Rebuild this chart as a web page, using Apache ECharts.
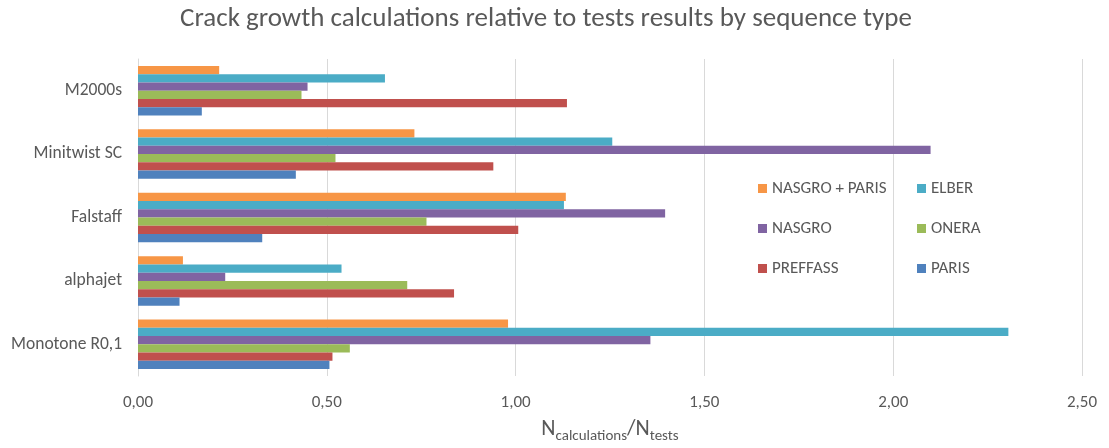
<!DOCTYPE html>
<html><head><meta charset="utf-8">
<script src="https://cdn.jsdelivr.net/npm/echarts@6/dist/echarts.min.js"></script>
<style>html,body{margin:0;padding:0;background:#fff}#c{width:1109px;height:448px}</style>
</head><body><div id="c"></div>
<script>
const categories = ['Monotone R0,1', 'alphajet', 'Falstaff', 'Minitwist SC', 'M2000s'];
const seriesNames = ['NASGRO + PARIS', 'ELBER', 'NASGRO', 'ONERA', 'PREFFASS', 'PARIS'];
const NASGRO_PARIS = [0.980, 0.119, 1.133, 0.732, 0.215];
const ELBER = [2.305, 0.539, 1.128, 1.256, 0.654];
const NASGRO = [1.357, 0.231, 1.396, 2.099, 0.449];
const ONERA = [0.561, 0.713, 0.764, 0.523, 0.433];
const PREFFASS = [0.515, 0.837, 1.007, 0.941, 1.136];
const PARIS = [0.507, 0.110, 0.329, 0.418, 0.169];
const xTicks = [0, 0.5, 1, 1.5, 2, 2.5];
const colors = ['#F79646', '#4BACC6', '#8064A2', '#9BBB59', '#C0504D', '#4F81BD'];
const values = [NASGRO_PARIS, ELBER, NASGRO, ONERA, PREFFASS, PARIS];

const font = "Carlito, 'Liberation Sans', 'Open Sans', sans-serif";
const txt = '#595959';
const chart = echarts.init(document.getElementById('c'));
chart.setOption({
  animation: false,
  color: colors,
  title: {
    text: 'Crack growth calculations relative to tests results by sequence type',
    left: 541, top: 1, textAlign: 'center',
    textStyle: { fontFamily: font, fontSize: 27, fontWeight: 'normal', color: txt }
  },
  legend: [
    { orient: 'vertical', left: 753, top: 175, itemGap: 23, itemWidth: 9, itemHeight: 9,
      icon: 'rect', data: ['NASGRO + PARIS', 'NASGRO', 'PREFFASS'],
      textStyle: { fontFamily: font, fontSize: 17, color: txt } },
    { orient: 'vertical', left: 912, top: 175, itemGap: 23, itemWidth: 9, itemHeight: 9,
      icon: 'rect', data: ['ELBER', 'ONERA', 'PARIS'],
      textStyle: { fontFamily: font, fontSize: 17, color: txt } }
  ],
  grid: { left: 138, right: 27, top: 59, bottom: 72, outerBoundsMode: 'none', containLabel: false },
  xAxis: {
    type: 'value', min: xTicks[0], max: xTicks[xTicks.length - 1], interval: 0.5,
    axisLine: { show: false }, axisTick: { show: false },
    splitLine: { lineStyle: { color: '#d9d9d9', width: 1 } },
    axisLabel: { margin: 18, fontFamily: font, fontSize: 17, color: txt,
      formatter: v => v.toFixed(2).replace('.', ',') },
    name: '{a|N}{s|calculations}{a|/N}{s|tests}',
    nameLocation: 'middle', nameGap: 42,
    nameTextStyle: { rich: {
      a: { fontFamily: font, fontSize: 22, color: txt, verticalAlign: 'bottom' },
      s: { fontFamily: font, fontSize: 15, color: txt, verticalAlign: 'bottom', padding: [0, 0, -4, 0] }
    } }
  },
  yAxis: {
    type: 'category', data: categories,
    axisLine: { lineStyle: { color: '#d9d9d9' } }, axisTick: { show: false },
    axisLabel: { margin: 16, fontFamily: font, fontSize: 17.5, color: txt }
  },
  series: seriesNames.map((n, i) => ({
    name: n, type: 'bar', data: values[i],
    barGap: '0%', barCategoryGap: '22%',
    itemStyle: { color: colors[i] }
  }))
});
</script></body></html>
